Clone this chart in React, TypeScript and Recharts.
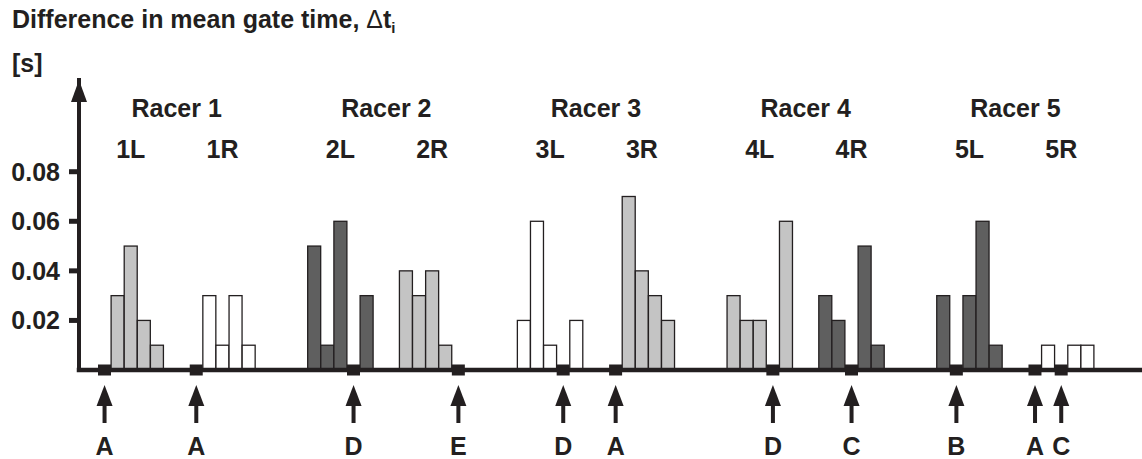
import React from 'react';
import { ComposedChart, Bar, XAxis, YAxis, ReferenceArea, ReferenceLine } from 'recharts';

// ---- data ----
const racerNames = ['Racer 1', 'Racer 2', 'Racer 3', 'Racer 4', 'Racer 5'];
const groupNames = ['1L', '1R', '2L', '2R', '3L', '3R', '4L', '4R', '5L', '5R'];
const g1L = [0, 0.03, 0.05, 0.02, 0.01];
const g1R = [0, 0.03, 0.01, 0.03, 0.01];
const g2L = [0.05, 0.01, 0.06, 0, 0.03];
const g2R = [0.04, 0.03, 0.04, 0.01, 0];
const g3L = [0.02, 0.06, 0.01, 0, 0.02];
const g3R = [0, 0.07, 0.04, 0.03, 0.02];
const g4L = [0.03, 0.02, 0.02, 0, 0.06];
const g4R = [0.03, 0.02, 0, 0.05, 0.01];
const g5L = [0.03, 0, 0.03, 0.06, 0.01];
const g5R = [0, 0.01, 0, 0.01, 0.01];
const groupShades = ['light', 'white', 'dark', 'light', 'white', 'light', 'light', 'dark', 'dark', 'white'];
const markerSlots = [[0], [0], [3], [4], [3], [0], [3], [2], [1], [0, 2]];
const markerLetters = [['A'], ['A'], ['D'], ['E'], ['D'], ['A'], ['D'], ['C'], ['B'], ['A', 'C']];
const yTicks = [0.02, 0.04, 0.06, 0.08];
const yMax = 0.117;

// ---- layout / style ----
const INK = '#231f20';
const FONT = '"Liberation Sans", Arial, sans-serif';
const FS = 25;
const FILL: Record<string, string> = { light: '#c4c4c4', dark: '#5f5f5f', white: '#ffffff' };
const GAP_LR = 2;
const GAP_RACER = 4;

const groupValues = [g1L, g1R, g2L, g2R, g3L, g3R, g4L, g4R, g5L, g5R];

type Slot = { key: string; v: number | null; shade?: string; marker?: boolean; letter?: string | null };
const slots: Slot[] = [];
const groupRanges: [string, string][] = [];
groupValues.forEach((vals, gi) => {
  if (gi > 0) {
    const gap = gi % 2 === 1 ? GAP_LR : GAP_RACER;
    for (let k = 0; k < gap; k++) slots.push({ key: `s${slots.length}`, v: null });
  }
  const start = slots.length;
  vals.forEach((v, si) => {
    const mi = markerSlots[gi].indexOf(si);
    slots.push({
      key: `s${slots.length}`,
      v,
      shade: groupShades[gi],
      marker: mi >= 0,
      letter: mi >= 0 ? markerLetters[gi][mi] : null,
    });
  });
  groupRanges.push([slots[start].key, slots[slots.length - 1].key]);
});
const slotByKey: Record<string, Slot> = {};
slots.forEach((s) => (slotByKey[s.key] = s));

const textStyle = { fill: INK, fontSize: FS, fontWeight: 'bold' as const, fontFamily: FONT };

const renderTick = (props: any) => {
  const { x, y, payload } = props;
  const slot = slotByKey[payload.value];
  if (!slot || !slot.marker) return <g />;
  return (
    <g>
      <polygon points={`${x},${y + 15} ${x - 8},${y + 36} ${x + 8},${y + 36}`} fill={INK} />
      <rect x={x - 2} y={y + 34} width={4} height={19} fill={INK} />
      <text x={x} y={y + 85} textAnchor="middle" {...textStyle}>
        {slot.letter}
      </text>
    </g>
  );
};

const barShape = (props: any) => {
  const { x, y, width, height, payload } = props;
  const base = y + (height > 0 ? height : 0);
  return (
    <g>
      {height > 0 && (
        <rect x={x} y={y} width={width} height={height} fill={FILL[payload.shade]} stroke={INK} strokeWidth={1.3} />
      )}
      {payload.marker && <rect x={x} y={base - 5.5} width={width} height={11} fill={INK} />}
    </g>
  );
};

const arrowShape = (props: any) => {
  const { x1, y1 } = props;
  return <polygon points={`${x1},${y1} ${x1 - 8},${y1 + 22} ${x1 + 8},${y1 + 22}`} fill={INK} />;
};

const makeLabel = (text: string, offset: number) => (p: any) => {
  const vb = p.viewBox;
  return (
    <text x={vb.x + vb.width / 2} y={vb.y + offset} textAnchor="middle" {...textStyle}>
      {text}
    </text>
  );
};

export default function App() {
  return (
    <div style={{ position: 'absolute', left: 0, top: 0, width: 1142, height: 459, background: '#fff' }}>
      <svg width={1142} height={100} style={{ position: 'absolute', left: 0, top: 0, pointerEvents: 'none' }}>
        <text x={12} y={28} {...textStyle}>
          Difference in mean gate time,{' '}
          <tspan fontWeight="normal">Δ</tspan>t
          <tspan fontSize={15} dy={5}>i</tspan>
        </text>
        <text x={12} y={72} {...textStyle}>
          [s]
        </text>
      </svg>
      <ComposedChart
        width={1142}
        height={459}
        data={slots}
        margin={{ top: 80, right: 2, bottom: 0, left: 0 }}
        barCategoryGap={0}
        barGap={0}
      >
        <XAxis
          dataKey="key"
          type="category"
          interval={0}
          padding={{ left: 19, right: 46 }}
          height={89}
          tickLine={false}
          tickSize={0}
          tickMargin={0}
          axisLine={{ stroke: INK, strokeWidth: 4.5, strokeLinecap: 'square' }}
          tick={renderTick}
        />
        <YAxis
          type="number"
          domain={[0, yMax]}
          ticks={yTicks}
          width={79}
          tickSize={10}
          tickMargin={9}
          axisLine={{ stroke: INK, strokeWidth: 4, strokeLinecap: 'square' }}
          tickLine={{ stroke: INK, strokeWidth: 5 }}
          tick={textStyle}
          tickFormatter={(v: number) => v.toFixed(2)}
        />
        {racerNames.map((name, r) => (
          <ReferenceArea
            key={name}
            x1={groupRanges[2 * r][0]}
            x2={groupRanges[2 * r + 1][1]}
            fill="none"
            fillOpacity={0}
            stroke="none"
            ifOverflow="visible"
            label={{ position: 'insideTop', content: makeLabel(name, 37) }}
          />
        ))}
        {groupNames.map((name, gi) => (
          <ReferenceArea
            key={name}
            x1={groupRanges[gi][0]}
            x2={groupRanges[gi][1]}
            fill="none"
            fillOpacity={0}
            stroke="none"
            ifOverflow="visible"
            label={{ position: 'insideTop', content: makeLabel(name, 78) }}
          />
        ))}
        <ReferenceLine y={yMax} stroke="none" ifOverflow="visible" shape={arrowShape} />
        <Bar dataKey="v" isAnimationActive={false} shape={barShape} />
      </ComposedChart>
    </div>
  );
}
